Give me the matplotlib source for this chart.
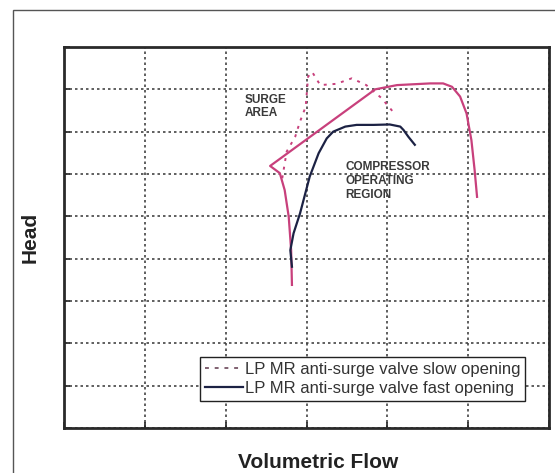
import matplotlib
matplotlib.use("Agg")
import matplotlib.pyplot as plt
from matplotlib.lines import Line2D
from matplotlib.patches import Rectangle

# ---- data (arbitrary units) ----
slow_env_x = [2.82, 2.81, 2.78, 2.73, 2.67, 2.55, 3.85, 4.12, 4.53, 4.69, 4.80, 4.90, 4.98, 5.04, 5.08, 5.11]
slow_env_y = [3.38, 4.20, 4.99, 5.62, 6.02, 6.19, 8.00, 8.10, 8.14, 8.14, 8.06, 7.83, 7.43, 6.80, 6.09, 5.46]
slow_surge_x = [2.70, 2.755, 2.86, 2.92, 2.99, 3.02, 3.07, 3.17, 3.37, 3.56, 3.74, 3.93, 4.07]
slow_surge_y = [5.90, 6.53, 6.88, 7.24, 7.59, 8.30, 8.41, 8.10, 8.13, 8.26, 8.10, 7.79, 7.47]
fast_x = [2.82, 2.80, 2.84, 2.92, 3.04, 3.15, 3.25, 3.33, 3.48, 3.62, 3.83, 4.03, 4.16, 4.20, 4.26, 4.34]
fast_y = [3.81, 4.20, 4.60, 5.07, 5.94, 6.49, 6.84, 7.00, 7.12, 7.16, 7.16, 7.17, 7.12, 7.04, 6.88, 6.69]

labels = ["LP MR anti-surge valve slow opening", "LP MR anti-surge valve fast opening"]

plt.rcParams['font.family'] = ['Liberation Sans', 'DejaVu Sans']

fig = plt.figure(figsize=(5.55, 4.73), dpi=100)
fig.patches.append(Rectangle((13/555, -0.1), 1.2, 1 - 10/473 + 0.1, transform=fig.transFigure,
                             fill=False, edgecolor='#555555', linewidth=1.0))

ax = fig.add_axes([64/555, 45/473, 485/555, 381/473])
pink = '#c8407c'
navy = '#1c2244'

ax.plot(slow_env_x, slow_env_y, color=pink, lw=1.6, solid_joinstyle='round')
ax.plot(slow_surge_x, slow_surge_y, color=pink, lw=1.4, linestyle=(0, (1.5, 3)))
ax.plot(fast_x, fast_y, color=navy, lw=1.6)

ax.set_xlim(0, 6)
ax.set_ylim(0, 9)
ax.set_xticks(range(0, 7))
ax.set_yticks(range(0, 10))
ax.set_xticklabels([])
ax.set_yticklabels([])
ax.tick_params(direction='in', length=4, width=1.2, color='#222222')
ax.grid(True, color='#444444', linestyle=(0, (1.5, 1.8)), linewidth=1.2)
for s in ax.spines.values():
    s.set_linewidth(2.0)
    s.set_color('#2a2a2a')

ax.text(2.24, 7.9, "SURGE\nAREA", fontsize=8.5, fontweight='bold', color='#3a3a3a',
        va='top', ha='left', linespacing=1.15)
ax.text(3.48, 6.3, "COMPRESSOR\nOPERATING\nREGION", fontsize=8.5, fontweight='bold', color='#3a3a3a',
        va='top', ha='left', linespacing=1.2)

handles = [Line2D([], [], color='#806070', lw=1.4, linestyle=(0, (2, 3))),
           Line2D([], [], color=navy, lw=1.6)]
leg = ax.legend(handles, labels, loc='lower left', bbox_to_anchor=(0.28, 0.072),
                fontsize=12, frameon=True, fancybox=False, framealpha=1,
                edgecolor='#222222', handlelength=2.3, handletextpad=0.1,
                borderpad=0.3, labelspacing=0.2, borderaxespad=0)
leg.get_frame().set_linewidth(1.0)
for t in leg.get_texts():
    t.set_color('#333333')

fig.text(30/555, 1 - 237/473, "Head", rotation=90, fontsize=15, fontweight='bold',
         ha='center', va='center', color='#222222')
fig.text(318/555, 1 - 462/473, "Volumetric Flow", fontsize=15, fontweight='bold',
         ha='center', va='center', color='#222222')

fig.savefig("out.png", dpi=100)
